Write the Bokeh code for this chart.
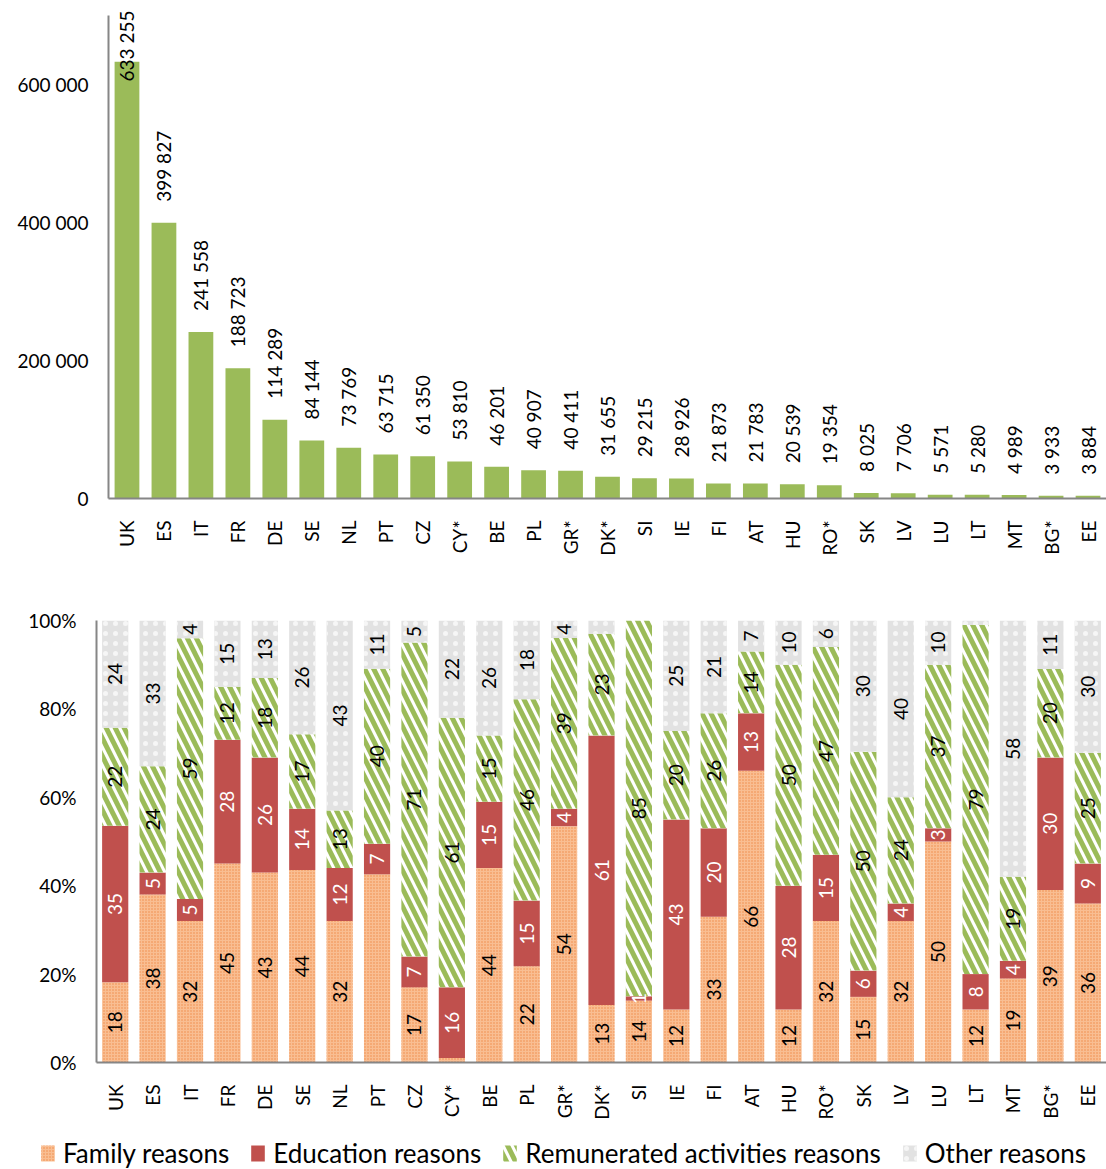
import numpy as np
import pandas as pd
from bokeh.plotting import figure
from bokeh.models import (ColumnDataSource, FactorRange, Range1d, FixedTicker,
                          Legend, LegendItem)
from bokeh.core.properties import value
from bokeh.embed import file_html
from bokeh.resources import INLINE

# ---------------- data ----------------
countries = ["UK", "ES", "IT", "FR", "DE", "SE", "NL", "PT", "CZ", "CY*", "BE", "PL", "GR*", "DK*",
             "SI", "IE", "FI", "AT", "HU", "RO*", "SK", "LV", "LU", "LT", "MT", "BG*", "EE"]
residents = [633255, 399827, 241558, 188723, 114289, 84144, 73769, 63715, 61350, 53810, 46201,
             40907, 40411, 31655, 29215, 28926, 21873, 21783, 20539, 19354, 8025, 7706, 5571,
             5280, 4989, 3933, 3884]
family      = [18, 38, 32, 45, 43, 44, 32, 43, 17,  1, 44, 22, 54, 13, 14, 12, 33, 66, 12, 32, 15, 32, 50, 12, 19, 39, 36]
education   = [35,  5,  5, 28, 26, 14, 12,  7,  7, 16, 15, 15,  4, 61,  1, 43, 20, 13, 28, 15,  6,  4,  3,  8,  4, 30,  9]
remunerated = [22, 24, 59, 12, 18, 17, 13, 40, 71, 61, 15, 46, 39, 23, 85, 20, 26, 14, 50, 47, 50, 24, 37, 79, 19, 20, 25]
other       = [24, 33,  4, 15, 13, 26, 43, 11,  5, 22, 26, 18,  4,  3,  0, 25, 21,  7, 10,  6, 30, 40, 10,  1, 58, 11, 30]
# labels not shown in the original chart
hidden_labels = [("PT", "family"), ("CY*", "family"), ("DK*", "other"), ("LT", "other"), ("SI", "other")]

series_keys = ["family", "education", "remunerated", "other"]
series_names = ["Family reasons", "Education reasons", "Remunerated activities reasons", "Other reasons"]

top_ticks = [0, 200000, 400000, 600000]
top_tick_labels = ["0", "200 000", "400 000", "600 000"]
pct_ticks = [0, 20, 40, 60, 80, 100]
pct_tick_labels = ["0%", "20%", "40%", "60%", "80%", "100%"]

FONT = "Lato"
AXIS_COLOR = "#868686"

# series styles
fills = ["#F9BE92", "#C0504D", "white", "#E2E2E2"]
hatches = ["dot", " ", "left_diagonal_line", "dot"]
hatch_colors = ["#F08A44", "#C0504D", "#9BBB59", "#F6F6F6"]
hatch_scales = [3, 1, 18, 10]
hatch_weights = [1.3, 1, 5, 0.9]

# ---------------- top chart ----------------
top_max = 715000
top = figure(x_range=FactorRange(*countries), y_range=Range1d(0, top_max),
             width=1106, height=598, output_backend="svg", toolbar_location=None,
             min_border_left=108, min_border_right=0, min_border_top=5, min_border_bottom=100)
src_top = ColumnDataSource(dict(x=countries, y=residents))
top.vbar(x="x", top="y", width=0.67, source=src_top, fill_color="#9BBB59", line_color=None)

fit = [v < 0.85 * top_max for v in residents]
src_lab = ColumnDataSource(dict(x=[c for c, f in zip(countries, fit) if f],
                                y=[v for v, f in zip(residents, fit) if f],
                                txt=[f"{v:,}".replace(",", " ") for v, f in zip(residents, fit) if f]))
top.text(x="x", y="y", text="txt", source=src_lab, angle=np.pi / 2, text_align="left",
         text_baseline="middle", y_offset=-21, text_font=value(FONT), text_font_size="19px",
         text_color="black")
src_lab2 = ColumnDataSource(dict(x=[c for c, f in zip(countries, fit) if not f],
                                 y=[top_max for f in fit if not f],
                                 txt=[f"{v:,}".replace(",", " ") for v, f in zip(residents, fit) if not f]))
top.text(x="x", y="y", text="txt", source=src_lab2, angle=np.pi / 2, text_align="right",
         text_baseline="middle", y_offset=5, text_font=value(FONT), text_font_size="19px",
         text_color="black")

# ---------------- bottom chart ----------------
df = pd.DataFrame(dict(family=family, education=education, remunerated=remunerated, other=other),
                  index=countries)
tot = df.sum(axis=1)
norm = df.div(tot, axis=0) * 100
norm["x"] = countries
src_bot = ColumnDataSource(norm.reset_index(drop=True))

bot = figure(x_range=FactorRange(*countries), y_range=Range1d(0, 100),
             width=1106, height=535, output_backend="svg", toolbar_location=None,
             min_border_left=96, min_border_right=0, min_border_top=22, min_border_bottom=71)

renderers = bot.vbar_stack(series_keys, x="x", width=0.7, source=src_bot,
                           fill_color=fills, hatch_pattern=hatches, hatch_color=hatch_colors,
                           hatch_scale=hatch_scales, hatch_weight=hatch_weights,
                           line_color=None)

label_colors = ["black", "white", "black", "black"]
cum = norm[series_keys].cumsum(axis=1)
for key, col in zip(series_keys, label_colors):
    centers = cum[key] - norm[key] / 2
    xs, ys, ts = [], [], []
    for c in countries:
        if (c, key) in hidden_labels:
            continue
        xs.append(c)
        ys.append(centers[c])
        ts.append(str(df.loc[c, key]))
    bot.text(x=xs, y=ys, text=ts, angle=np.pi / 2, text_align="center", text_baseline="middle",
             text_font=value(FONT), text_font_size="19px", text_color=col)

# ---------------- styling ----------------
for p, yt, yl in ((top, top_ticks, top_tick_labels), (bot, pct_ticks, pct_tick_labels)):
    p.outline_line_color = None
    p.xgrid.grid_line_color = None
    p.ygrid.grid_line_color = None
    for ax in (p.xaxis[0], p.yaxis[0]):
        ax.axis_line_color = AXIS_COLOR
        ax.axis_line_width = 2
        ax.major_tick_line_color = None
        ax.minor_tick_line_color = None
        ax.major_tick_in = 0
        ax.major_tick_out = 0
        ax.major_label_text_font = FONT
        ax.major_label_text_font_size = "19px"
        ax.major_label_text_color = "black"
    p.xaxis.major_label_orientation = np.pi / 2
    p.xaxis.major_label_standoff = 22
    p.yaxis.major_label_standoff = 20
    p.yaxis.ticker = FixedTicker(ticks=yt)
    p.yaxis.major_label_overrides = {t: l for t, l in zip(yt, yl)}
top.yaxis.bounds = (0, 700000)

# ---------------- legend strip ----------------
leg = figure(width=1106, height=36, x_range=Range1d(0, 1), y_range=Range1d(0, 1),
             output_backend="svg", toolbar_location=None, min_border=0,
             x_axis_location=None, y_axis_location=None)
leg.outline_line_color = None
leg.xgrid.grid_line_color = None
leg.ygrid.grid_line_color = None
leg_items = []
for name, fc, hp, hc, hs, hw in zip(series_names, fills, hatches, hatch_colors, hatch_scales, hatch_weights):
    # zero-height proxy bar: only its legend swatch is visible
    r = leg.vbar(x=[0], top=[0], bottom=[0], width=0, fill_color=fc, hatch_pattern=hp,
                 hatch_color=hc, hatch_scale=hs, hatch_weight=hw, line_color=None)
    leg_items.append(LegendItem(label=name, renderers=[r]))
legend = Legend(items=leg_items, orientation="horizontal", location=(39, 0),
                border_line_color=None, background_fill_alpha=0, glyph_width=17,
                glyph_height=20, label_standoff=7, spacing=20, padding=0, margin=0,
                label_text_font=FONT, label_text_font_size="26px", label_text_color="black")
leg.add_layout(legend)

open("out.html", "w").write(file_html([top, bot, leg], INLINE))
